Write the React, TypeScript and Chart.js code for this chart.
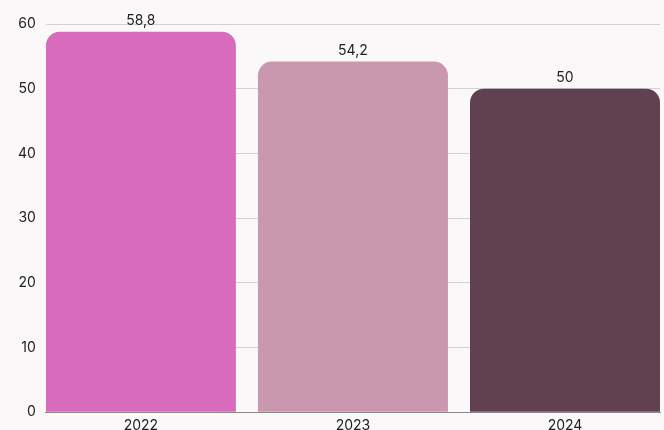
import React, { useEffect, useRef } from "react";
import { Chart, registerables } from "chart.js";

Chart.register(...registerables);

const categories = ["2022", "2023", "2024"];
const values = [58.8, 54.2, 50];
const barColors = ["#d96bbd", "#c998ae", "#61414f"];
const yTicks = [0, 10, 20, 30, 40, 50, 60];

const FONT = "Inter, 'Noto Sans', sans-serif";
const BAR_FRAC = 0.896;

const valueLabels = {
  id: "valueLabels",
  afterDatasetsDraw(chart: any) {
    const ctx = chart.ctx;
    const meta = chart.getDatasetMeta(0);
    ctx.save();
    ctx.font = `14px ${FONT}`;
    ctx.fillStyle = "#222";
    ctx.textAlign = "center";
    ctx.textBaseline = "alphabetic";
    meta.data.forEach((el: any, i: number) => {
      const txt = String(values[i]).replace(".", ",");
      ctx.fillText(txt, el.x, el.y - 7);
    });
    ctx.restore();
  },
};

export default function App() {
  const ref = useRef<HTMLCanvasElement>(null);
  useEffect(() => {
    document.body.style.margin = "0";
    document.body.style.overflow = "hidden";
    document.documentElement.style.overflow = "hidden";
    document.body.style.background = "#faf8f9";
    const chart = new Chart(ref.current!, {
      type: "bar",
      data: {
        datasets: [
          {
            data: values.map((v, i) => ({ x: i, y: v })),
            backgroundColor: barColors,
            borderRadius: { topLeft: 14, topRight: 14, bottomLeft: 0, bottomRight: 0 },
            borderSkipped: false,
            categoryPercentage: BAR_FRAC,
            barPercentage: 1,
          },
        ],
      },
      options: {
        animation: false,
        responsive: false,
        maintainAspectRatio: false,
        layout: { padding: { top: 24, right: 4, left: 8, bottom: 0 } },
        plugins: { legend: { display: false }, tooltip: { enabled: false } },
        scales: {
          x: {
            type: "linear",
            offset: false,
            bounds: "data",
            min: -BAR_FRAC / 2,
            max: categories.length - 1 + BAR_FRAC / 2,
            afterBuildTicks: (axis: any) => {
              axis.ticks = categories.map((_, i) => ({ value: i }));
            },
            grid: { display: false, drawTicks: false, offset: false },
            border: { display: true, color: "#888" },
            ticks: {
              color: "#222",
              font: { family: FONT, size: 14 },
              padding: 5,
              autoSkip: false,
              maxRotation: 0,
              callback: (v: any) => categories[Math.round(Number(v))] ?? "",
            },
          },
          y: {
            min: 0,
            max: 60,
            afterBuildTicks: (axis: any) => {
              axis.ticks = yTicks.map((v) => ({ value: v }));
            },
            grid: { color: "#d2d2d2", drawTicks: false },
            border: { display: false },
            ticks: { color: "#222", font: { family: FONT, size: 14 }, padding: 10 },
          },
        },
      },
      plugins: [valueLabels],
    });
    return () => chart.destroy();
  }, []);
  return (
    <div style={{ width: 664, height: 430, overflow: "hidden", background: "#faf8f9" }}>
      <canvas ref={ref} width={664} height={439} style={{ display: "block" }} />
    </div>
  );
}
